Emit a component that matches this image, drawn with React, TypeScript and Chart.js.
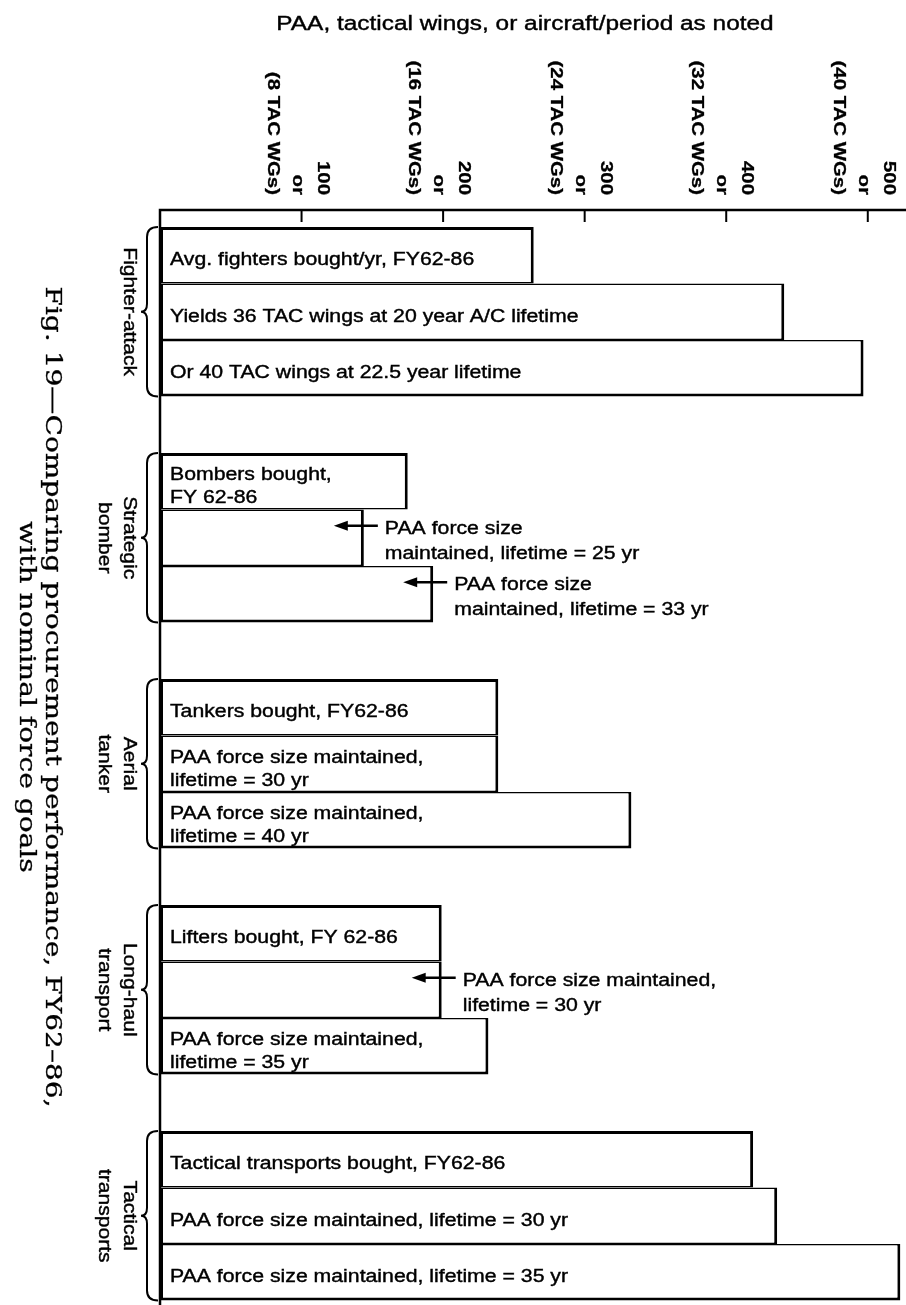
import React, { useEffect, useRef } from 'react';
import { Chart, registerables } from 'chart.js';

Chart.register(...registerables);

// ---------- data ----------
const groupLabels: string[][] = [
  ['Fighter-attack'],
  ['Strategic', 'bomber'],
  ['Aerial', 'tanker'],
  ['Long-haul', 'transport'],
  ['Tactical', 'transports'],
];

const fighterValues = [264, 441, 497];
const bomberValues = [175, 144, 193];
const tankerValues = [239, 239, 333];
const longHaulValues = [199, 199, 232];
const tacticalValues = [419, 436, 523];

const fighterLabels: string[][] = [
  ['Avg. fighters bought/yr, FY62-86'],
  ['Yields 36 TAC wings at 20 year A/C lifetime'],
  ['Or 40 TAC wings at 22.5 year lifetime'],
];
const bomberLabels: string[][] = [['Bombers bought,', 'FY 62-86'], [], []];
const tankerLabels: string[][] = [
  ['Tankers bought, FY62-86'],
  ['PAA force size maintained,', 'lifetime = 30 yr'],
  ['PAA force size maintained,', 'lifetime = 40 yr'],
];
const longHaulLabels: string[][] = [
  ['Lifters bought, FY 62-86'],
  [],
  ['PAA force size maintained,', 'lifetime = 35 yr'],
];
const tacticalLabels: string[][] = [
  ['Tactical transports bought, FY62-86'],
  ['PAA force size maintained, lifetime = 30 yr'],
  ['PAA force size maintained, lifetime = 35 yr'],
];

const bomberNotes: string[][] = [
  [],
  ['PAA force size', 'maintained, lifetime = 25 yr'],
  ['PAA force size', 'maintained, lifetime = 33 yr'],
];
const fighterNotes: string[][] = [[], [], []];
const tankerNotes: string[][] = [[], [], []];
const longHaulNotes: string[][] = [[], ['PAA force size maintained,', 'lifetime = 30 yr'], []];
const tacticalNotes: string[][] = [[], [], []];

const tickValues = [100, 200, 300, 400, 500];
const tickWings = ['(8 TAC WGs)', '(16 TAC WGs)', '(24 TAC WGs)', '(32 TAC WGs)', '(40 TAC WGs)'];
const axisTitle = 'PAA, tactical wings, or aircraft/period as noted';
const captionLines = ['Fig. 19\u2014Comparing procurement performance, FY62\u201386,', 'with nominal force goals'];

// ---------- derived ----------
const groupValues = [fighterValues, bomberValues, tankerValues, longHaulValues, tacticalValues];
const groupBarLabels = [fighterLabels, bomberLabels, tankerLabels, longHaulLabels, tacticalLabels];
const groupNotes = [fighterNotes, bomberNotes, tankerNotes, longHaulNotes, tacticalNotes];
const ROWS_PER_GROUP = 4;

type Pt = { x: number; y: number; g: number; r: number };
const points: Pt[] = [];
groupValues.forEach((vals, g) =>
  vals.forEach((v, r) => points.push({ x: v, y: g * ROWS_PER_GROUP + r, g, r }))
);
const rowCount = groupValues.length * ROWS_PER_GROUP - 1;
const rowTicks = Array.from({ length: rowCount }, (_, i) => ({ value: i }));

const SANS = '"Liberation Sans", Arial, Helvetica, sans-serif';
const SERIF = '"DejaVu Serif", "Century Schoolbook", serif';
const BAR_STRETCH = 1.18;

function drawText(
  ctx: CanvasRenderingContext2D,
  s: string,
  x: number,
  y: number,
  font: string,
  align: CanvasTextAlign,
  rot = 0,
  sx = BAR_STRETCH,
  weight = 0.4
) {
  ctx.save();
  ctx.translate(x, y);
  ctx.rotate(rot);
  ctx.scale(sx, 1);
  ctx.font = font;
  ctx.textAlign = align;
  ctx.textBaseline = 'alphabetic';
  ctx.fillStyle = '#000';
  ctx.fillText(s, 0, 0);
  if (weight > 0) {
    ctx.strokeStyle = '#000';
    ctx.lineWidth = weight;
    ctx.strokeText(s, 0, 0);
  }
  ctx.restore();
}

const decor = {
  id: 'decor',
  afterDatasetsDraw(chart: any) {
    const { ctx, chartArea: a } = chart;
    const xs = chart.scales.x;
    const ys = chart.scales.y;
    ctx.save();
    ctx.strokeStyle = '#000';
    ctx.fillStyle = '#000';
    ctx.lineCap = 'butt';

    // axes lines
    ctx.lineWidth = 2.5;
    ctx.beginPath();
    ctx.moveTo(a.left, a.bottom);
    ctx.lineTo(a.left, a.top);
    ctx.lineTo(a.right, a.top);
    ctx.stroke();

    // ticks + rotated labels
    ctx.lineWidth = 2;
    tickValues.forEach((v, i) => {
      const px = xs.getPixelForValue(v);
      ctx.beginPath();
      ctx.moveTo(px, a.top);
      ctx.lineTo(px, a.top + 12);
      ctx.stroke();
      const lines = [String(v), 'or', tickWings[i]];
      lines.forEach((ln, j) => {
        drawText(ctx, ln, px + 16 - 25 * j, a.top - 15, 'bold 17px ' + SANS, 'right', Math.PI / 2, 1.2, 0.3);
      });
    });

    // axis title
    drawText(ctx, axisTitle, a.left + 365, a.top - 180, '20px ' + SANS, 'center', 0, 1.22);

    // groups: braces + labels
    groupLabels.forEach((lines, g) => {
      const top = ys.getPixelForValue(g * ROWS_PER_GROUP - 0.5);
      const bottom = ys.getPixelForValue(g * ROWS_PER_GROUP + 2.5);
      const mid = (top + bottom) / 2;
      const L = a.left - 2;
      const bx = a.left - 13;
      const cx = a.left - 19;
      ctx.lineWidth = 2;
      ctx.beginPath();
      ctx.moveTo(L, top);
      ctx.quadraticCurveTo(bx, top, bx, top + 10);
      ctx.lineTo(bx, mid - 8);
      ctx.quadraticCurveTo(bx, mid, cx, mid);
      ctx.quadraticCurveTo(bx, mid, bx, mid + 8);
      ctx.lineTo(bx, bottom - 10);
      ctx.quadraticCurveTo(bx, bottom, L, bottom);
      ctx.stroke();
      lines.forEach((ln, j) => {
        drawText(ctx, ln, a.left - 36 - 25 * j, mid, '18px ' + SANS, 'center', Math.PI / 2, 1.17);
      });
    });

    // bar labels and notes
    points.forEach((p) => {
      const c = ys.getPixelForValue(p.y);
      const lbl = groupBarLabels[p.g][p.r];
      if (lbl.length === 1) {
        drawText(ctx, lbl[0], a.left + 10, c + 10, '18px ' + SANS, 'left');
      } else if (lbl.length === 2) {
        drawText(ctx, lbl[0], a.left + 10, c - 1, '18px ' + SANS, 'left');
        drawText(ctx, lbl[1], a.left + 10, c + 22, '18px ' + SANS, 'left');
      }
      const note = groupNotes[p.g][p.r];
      if (note.length) {
        const xv = xs.getPixelForValue(p.x);
        const head = xv - 30;
        const tail = xv + 14;
        const ay = c - 12;
        ctx.lineWidth = 2.4;
        ctx.beginPath();
        ctx.moveTo(tail, ay);
        ctx.lineTo(head + 8, ay);
        ctx.stroke();
        ctx.beginPath();
        ctx.moveTo(head, ay);
        ctx.lineTo(head + 14, ay - 5);
        ctx.lineTo(head + 14, ay + 5);
        ctx.closePath();
        ctx.fill();
        drawText(ctx, note[0], xv + 21, c - 4, '18px ' + SANS, 'left');
        drawText(ctx, note[1], xv + 21, c + 21, '18px ' + SANS, 'left');
      }
    });

    // caption (rotated, serif)
    captionLines.forEach((ln, j) => {
      drawText(ctx, ln, 46 - 26 * j, a.top + 487, '23px ' + SERIF, 'center', Math.PI / 2, 1.22, 0.3);
    });

    ctx.restore();
  },
};

export default function App() {
  const ref = useRef<HTMLCanvasElement>(null);
  useEffect(() => {
    const canvas = ref.current;
    if (!canvas) return;
    const chart = new Chart(canvas, {
      type: 'bar',
      data: {
        datasets: [
          {
            data: points as any,
            backgroundColor: '#ffffff',
            borderColor: '#000000',
            borderWidth: ((c: any) => {
              const r = c.dataIndex % 3;
              return { top: r === 0 ? 3 : 1.5, bottom: r === 2 ? 3 : 1.5, left: 3, right: 3 };
            }) as any,
            borderSkipped: false,
            inflateAmount: 0,
            barPercentage: 1,
            categoryPercentage: 1,
          } as any,
        ],
      },
      options: {
        indexAxis: 'y',
        responsive: false,
        animation: false,
        devicePixelRatio: 1,
        layout: { padding: { left: 160, top: 210, right: 0, bottom: 0 } },
        scales: {
          x: { type: 'linear', position: 'top', min: 0, max: 527, display: false, offset: false },
          y: {
            type: 'linear',
            reverse: true,
            offset: false,
            min: -0.8,
            max: 18.58,
            display: false,
            afterBuildTicks: (s: any) => {
              s.ticks = rowTicks.map((t) => ({ ...t }));
            },
          },
        },
        plugins: { legend: { display: false }, tooltip: { enabled: false } },
      } as any,
      plugins: [decor],
    });
    return () => chart.destroy();
  }, []);
  return (
    <div style={{ position: 'fixed', left: 0, top: 0, width: 906, height: 1305, background: '#fff' }}>
      <canvas ref={ref} width={906} height={1305} style={{ display: 'block' }} />
    </div>
  );
}
